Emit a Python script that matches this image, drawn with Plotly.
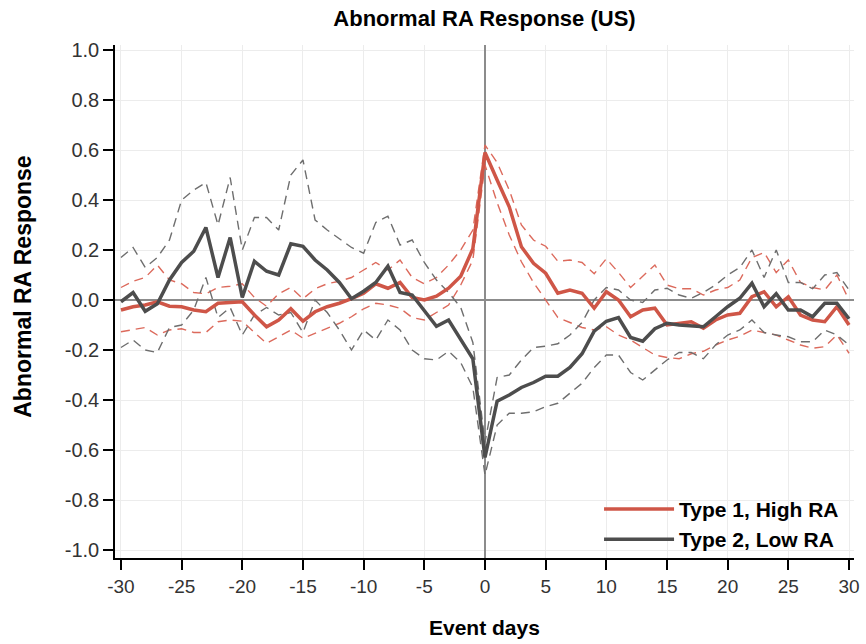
import plotly.graph_objects as go

days = list(range(-30, 31))

type1_mean = [-0.04, -0.027, -0.02, -0.007, -0.025, -0.027, -0.04, -0.047, -0.013, -0.01,
              -0.007, -0.06, -0.107, -0.08, -0.035, -0.085, -0.047, -0.027, -0.013, 0.005,
              0.027, 0.065, 0.047, 0.07, 0.01, 0.0, 0.015, 0.047, 0.095, 0.205,
              0.59,
              0.48, 0.373, 0.213, 0.147, 0.107, 0.027, 0.04, 0.027, -0.033, 0.033,
              0.0, -0.067, -0.04, -0.033, -0.1, -0.093, -0.087, -0.113, -0.08, -0.06,
              -0.053, 0.013, 0.033, -0.027, 0.013, -0.06, -0.08, -0.087, -0.027, -0.1]
type1_upper = [0.05, 0.075, 0.09, 0.14, 0.08, 0.065, 0.03, 0.025, 0.05, 0.055,
               0.065, 0.01, -0.025, 0.025, 0.05, 0.005, 0.045, 0.065, 0.075, 0.09,
               0.12, 0.15, 0.12, 0.16, 0.09, 0.065, 0.09, 0.14, 0.2, 0.28,
               0.62,
               0.55, 0.44, 0.3, 0.24, 0.215, 0.155, 0.16, 0.15, 0.105, 0.165,
               0.11, 0.05, 0.095, 0.14, 0.06, 0.045, 0.045, 0.02, 0.04, 0.05,
               0.08, 0.17, 0.19, 0.11, 0.16, 0.07, 0.05, 0.04, 0.1, 0.0]
type1_lower = [-0.127, -0.12, -0.11, -0.14, -0.12, -0.115, -0.13, -0.13, -0.087, -0.08,
               -0.085, -0.13, -0.173, -0.147, -0.12, -0.153, -0.133, -0.113, -0.093, -0.067,
               -0.035, -0.013, -0.02, -0.033, -0.07, -0.08, -0.05, -0.02, 0.06, 0.16,
               0.54,
               0.39, 0.26, 0.153, 0.07, 0.0, -0.07, -0.09, -0.11, -0.12, -0.107,
               -0.14, -0.16, -0.19, -0.22, -0.23, -0.235, -0.215, -0.205, -0.18, -0.16,
               -0.145, -0.12, -0.13, -0.14, -0.16, -0.18, -0.193, -0.187, -0.14, -0.213]

type2_mean = [-0.007, 0.03, -0.045, -0.015, 0.08, 0.15, 0.195, 0.29, 0.09, 0.25,
              0.01, 0.155, 0.115, 0.1, 0.225, 0.215, 0.16, 0.12, 0.07, 0.005,
              0.035, 0.07, 0.135, 0.03, 0.02, -0.04, -0.105, -0.08, -0.16, -0.235,
              -0.63,
              -0.405, -0.38, -0.35, -0.33, -0.305, -0.305, -0.27, -0.215, -0.125, -0.085,
              -0.07, -0.15, -0.165, -0.115, -0.093, -0.1, -0.104, -0.107, -0.067, -0.027,
              0.007, 0.067, -0.027, 0.025, -0.04, -0.04, -0.067, -0.013, -0.013, -0.075]
type2_upper = [0.17, 0.21, 0.13, 0.17, 0.24, 0.4, 0.44, 0.47, 0.3, 0.49,
               0.2, 0.33, 0.33, 0.28, 0.5, 0.56, 0.32, 0.28, 0.245, 0.21,
               0.187, 0.31, 0.335, 0.22, 0.24, 0.15, 0.08, 0.03, -0.03, -0.17,
               -0.57,
               -0.31, -0.3, -0.24, -0.19, -0.185, -0.175, -0.14, -0.09, 0.0, 0.05,
               0.04, 0.0, -0.01, 0.04, 0.047, 0.02, 0.007, 0.03, 0.06, 0.1,
               0.13, 0.2, 0.09, 0.2, 0.07, 0.07, 0.045, 0.1, 0.11, 0.04]
type2_lower = [-0.19, -0.16, -0.2, -0.21, -0.11, -0.1, -0.04, 0.09, -0.07, -0.03,
               -0.14, -0.06, -0.03, -0.06, -0.05, -0.13, 0.0, -0.05, -0.12, -0.2,
               -0.12, -0.16, -0.08, -0.12, -0.2, -0.235, -0.24, -0.205, -0.25, -0.35,
               -0.7,
               -0.5, -0.453, -0.453, -0.447, -0.427, -0.413, -0.373, -0.333, -0.27, -0.22,
               -0.22, -0.29, -0.32, -0.28, -0.24, -0.21, -0.21, -0.235, -0.18, -0.14,
               -0.12, -0.08, -0.13, -0.14, -0.147, -0.167, -0.167, -0.12, -0.14, -0.18]

x_ticks = list(range(-30, 31, 5))
x_ticktext = [str(v) for v in x_ticks]
y_ticks = [-1.0, -0.8, -0.6, -0.4, -0.2, 0.0, 0.2, 0.4, 0.6, 0.8, 1.0]
y_ticktext = ["-1.0", "-0.8", "-0.6", "-0.4", "-0.2", "0.0", "0.2", "0.4", "0.6", "0.8", "1.0"]

RED = "#cf5647"
GRAY = "#4d4d4d"
RED_D = "#dc6a5c"
GRAY_D = "#6e6e6e"

fig = go.Figure()
for ys, col in [(type1_upper, RED_D), (type1_lower, RED_D), (type2_upper, GRAY_D), (type2_lower, GRAY_D)]:
    fig.add_trace(go.Scatter(x=days, y=ys, mode="lines", showlegend=False, hoverinfo="skip",
                             line=dict(color=col, width=1.4, dash="9px,6px")))
fig.add_trace(go.Scatter(x=days, y=type1_mean, mode="lines", name="<b>Type 1, High RA</b>",
                         line=dict(color=RED, width=3.5)))
fig.add_trace(go.Scatter(x=days, y=type2_mean, mode="lines", name="<b>Type 2, Low RA</b>",
                         line=dict(color=GRAY, width=3.5)))

FONT = "Liberation Sans, Arial, sans-serif"
fig.update_layout(
    width=866, height=644,
    margin=dict(l=115, r=6, t=45, b=86),
    paper_bgcolor="white", plot_bgcolor="white",
    font=dict(family=FONT, color="#333333", size=19),
    title=dict(text="<b>Abnormal RA Response (US)</b>", x=0.5, xref="paper", y=1 - 18 / 644,
               yanchor="middle", xanchor="center", font=dict(size=22, color="black")),
    showlegend=True,
    legend=dict(x=0.655, y=0.135, xanchor="left", yanchor="top", bgcolor="rgba(0,0,0,0)",
                font=dict(size=21, color="black"), itemwidth=70, tracegroupgap=0),
    xaxis=dict(range=[-30.49, 30.41], tickvals=x_ticks, ticktext=x_ticktext,
               showgrid=True, gridcolor="#ececec", gridwidth=1,
               zeroline=True, zerolinecolor="#8c8c8c", zerolinewidth=1.5,
               showline=True, linecolor="black", linewidth=1.5,
               ticks="outside", ticklen=10, tickwidth=1.5, tickcolor="black",
               tickfont=dict(size=19, color="#333333")),
    yaxis=dict(range=[-1.032, 1.02], tickvals=y_ticks, ticktext=y_ticktext,
               showgrid=True, gridcolor="#ececec", gridwidth=1,
               zeroline=True, zerolinecolor="#8c8c8c", zerolinewidth=1.5,
               showline=True, linecolor="black", linewidth=1.5,
               ticks="outside", ticklen=10, tickwidth=1.5, tickcolor="black",
               tickfont=dict(size=20, color="#333333")),
    annotations=[
        dict(text="<b>Abnormal RA Response</b>", xref="paper", yref="paper",
             x=(22 - 115) / 745, y=(558 - 287) / 513, textangle=-90, showarrow=False,
             xanchor="center", yanchor="middle", font=dict(size=23, color="black")),
        dict(text="<b>Event days</b>", xref="paper", yref="paper",
             x=0.5, y=(558 - 627) / 513, showarrow=False,
             xanchor="center", yanchor="middle", font=dict(size=21, color="black")),
    ],
)

fig.write_html("out.html")
